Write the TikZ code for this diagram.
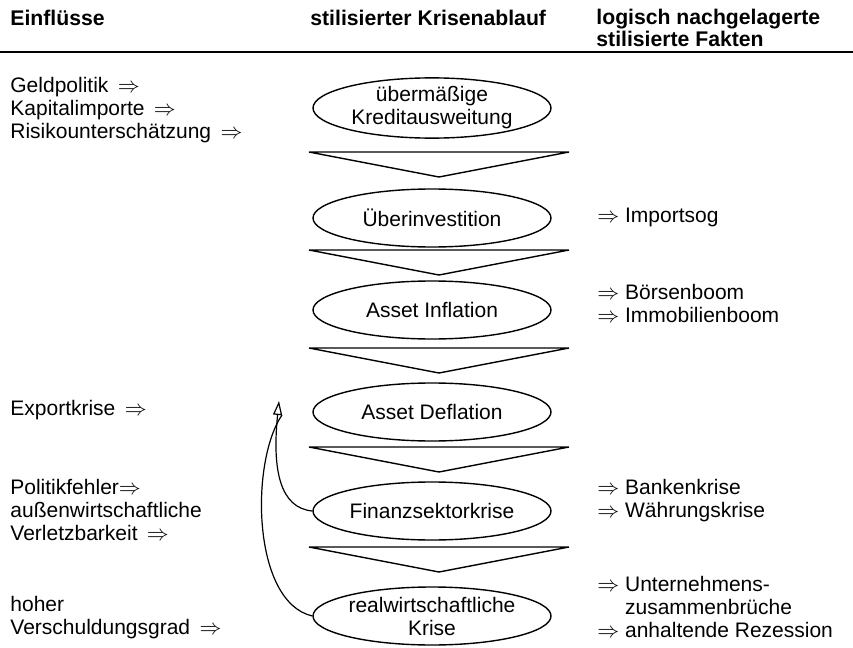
\documentclass[tikz,border=0pt]{standalone}
\usepackage{fontspec}
\setmainfont{Liberation Sans}
\usetikzlibrary{shapes.geometric}
\usetikzlibrary{arrows.meta}

\begin{document}
\begin{tikzpicture}[x=0.5pt,y=-0.5pt,
every node/.style={font=\fontsize{10.5}{11.5}\selectfont},
stage/.style={ellipse,draw,line width=0.7pt,minimum width=119pt,minimum height=29pt,inner sep=0pt,align=center},
txt/.style={anchor=west,inner sep=0pt,align=left},
head/.style={txt,font=\fontsize{10.6}{10.6}\selectfont\bfseries}]
\useasboundingbox (0,0) rectangle (853,648);
%%% HEADER %%%
\node[head] (h1) at (10,18) {Einflüsse};
\node[head] (h2) at (310,18) {stilisierter Krisenablauf};
\node[head] (h3) at (596,28) {logisch nachgelagerte\\stilisierte Fakten};
\draw[line width=0.8pt] (0,52) -- (853,52);
%%% HERE IS THE CRISIS CHAIN %%%
\node[stage] (kred) at (432,108) {übermäßige\\Kreditausweitung};
\node[stage] (inv) at (432,218) {Überinvestition};
\node[stage] (infl) at (432,310) {Asset Inflation};
\node[stage] (defl) at (432,412) {Asset Deflation};
\node[stage] (fin) at (432,511) {Finanzsektorkrise};
\node[stage] (real) at (432,616) {realwirtschaftliche\\Krise};
\foreach \t in {152,250,348,447,547}
  \draw[line width=0.7pt] (309,\t) -- (569,\t) -- (439,\t+25) -- cycle;
%%% LEFT: EINFLUESSE %%%
\node[txt] (geld) at (10,110) {Geldpolitik \,$\Rightarrow$\\Kapitalimporte \,$\Rightarrow$\\Risikounterschätzung \,$\Rightarrow$};
\node[txt] (exp) at (10,410) {Exportkrise \,$\Rightarrow$};
\node[txt] (pol) at (10,510) {Politikfehler$\Rightarrow$\\außenwirtschaftliche\\Verletzbarkeit \,$\Rightarrow$};
\node[txt] (schuld) at (10,618) {hoher\\Verschuldungsgrad \,$\Rightarrow$};
%%% RIGHT: FAKTEN %%%
\node[txt] (imp) at (597,217) {$\Rightarrow$ Importsog};
\node[txt] (boom) at (597,303) {$\Rightarrow$ Börsenboom\\$\Rightarrow$ Immobilienboom};
\node[txt] (bank) at (597,501) {$\Rightarrow$ Bankenkrise\\$\Rightarrow$ Währungskrise};
\node[txt] (rez) at (597,607) {$\Rightarrow$ Unternehmens-\\\phantom{$\Rightarrow$ }zusammenbrüche\\$\Rightarrow$ anhaltende Rezession};
%%% FEEDBACK %%%
\coordinate (tip) at (279,401);
\coordinate (join) at (282,415);
\draw[line width=0.6pt,-{Triangle[open,length=7pt,width=4.5pt]}] (fin.west) .. controls (280,508) and (272,470) .. (tip);
\draw[line width=0.6pt] (real.west) .. controls (252,602) and (250,462) .. (join);
%\node at (432,560) {};
\end{tikzpicture}
\end{document}
